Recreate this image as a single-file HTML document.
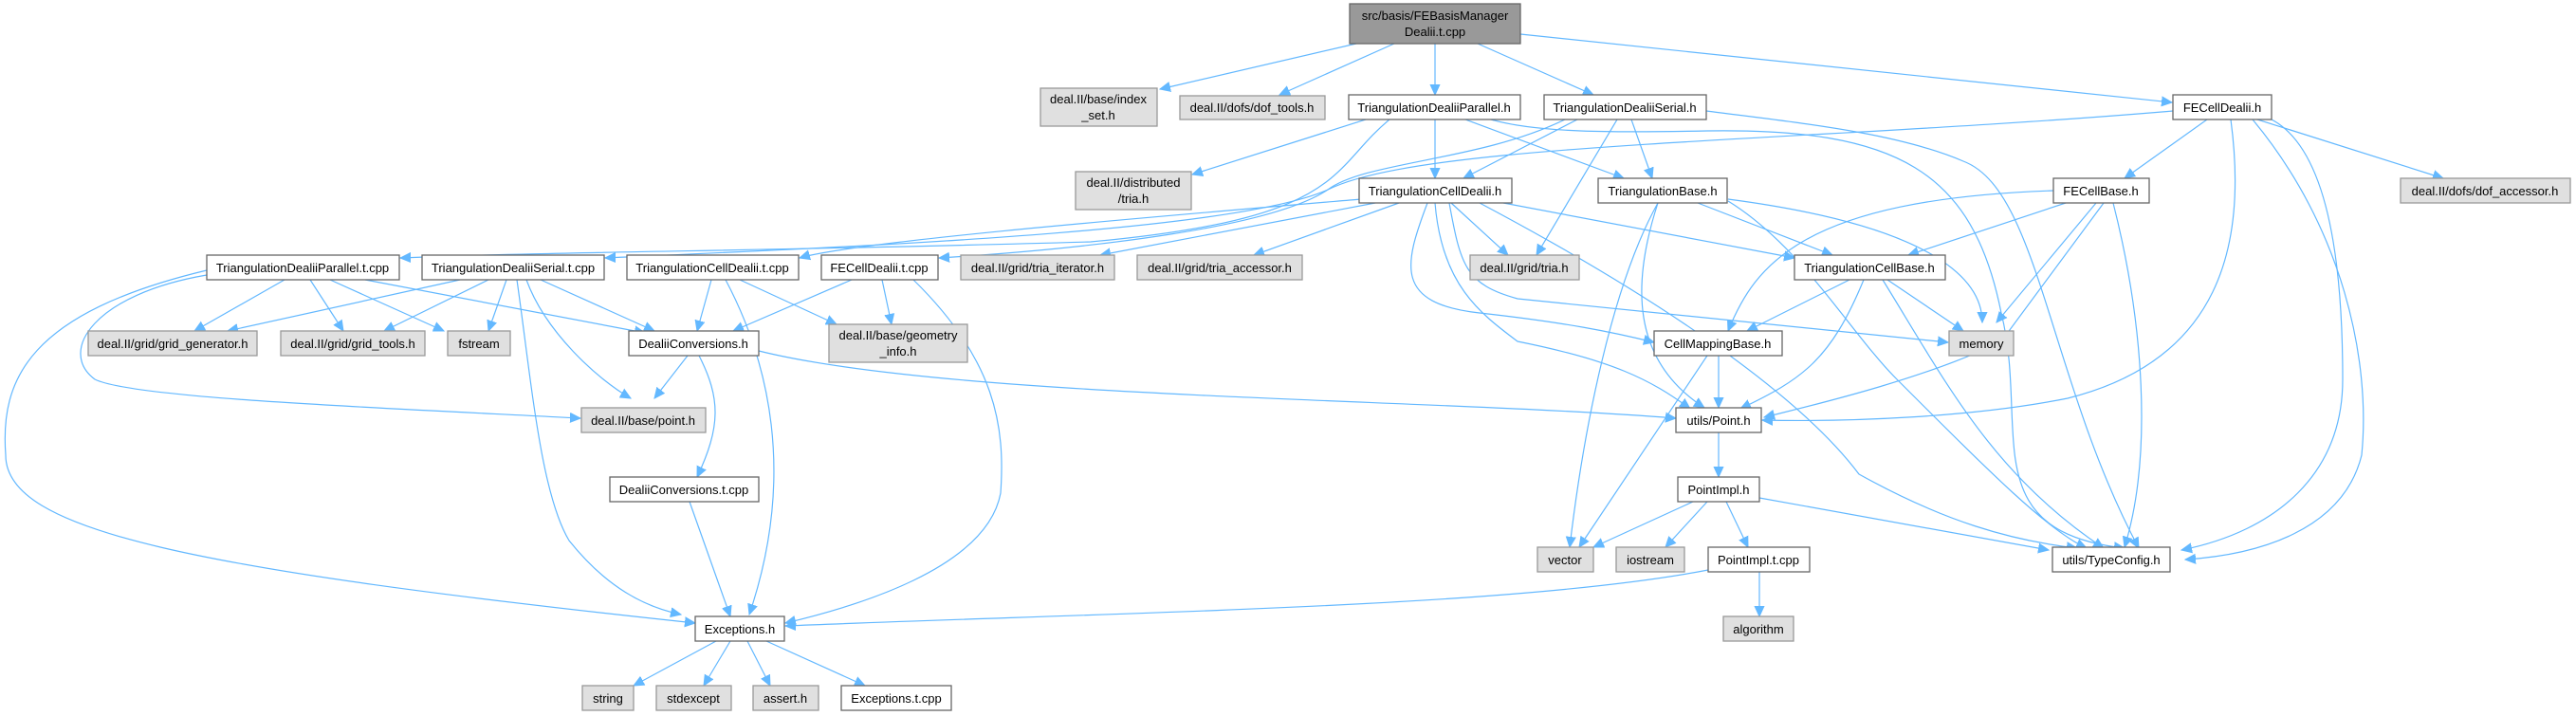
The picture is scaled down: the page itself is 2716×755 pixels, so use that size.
<!DOCTYPE html>
<html><head><meta charset="utf-8"><style>
html,body{margin:0;padding:0;background:#fff;}
svg{display:block;}
text{font-family:"Liberation Sans",Arial,sans-serif;font-size:13px;fill:#000;text-anchor:middle;}
.e{fill:none;stroke:#63b8ff;stroke-width:1.2;marker-end:url(#a);}
.g{fill:#e0e0e0;stroke:#999;stroke-width:1.3;}
.w{fill:#fff;stroke:#666;stroke-width:1.3;}
.t{fill:#999;stroke:#666;stroke-width:1.3;}
</style></head><body>
<svg width="2716" height="755" viewBox="0 0 2716 755" xmlns="http://www.w3.org/2000/svg">
<defs><marker id="a" markerUnits="userSpaceOnUse" markerWidth="12" markerHeight="12" viewBox="0 0 12 12" refX="11" refY="6" orient="auto"><path d="M0,1 L11,6 L0,11 z" fill="#63b8ff" stroke="#63b8ff"/></marker></defs>

<path class="e" d="M1430,46 L1223,94"/>
<path class="e" d="M1470,46 L1349,100"/>
<path class="e" d="M1513,46 L1513,100"/>
<path class="e" d="M1558,46 L1680,100"/>
<path class="e" d="M1603,36 L2290,108"/>

<path class="e" d="M1440,126 L1257,184"/>
<path class="e" d="M1465,126 C1400,180 1420,230 1150,255 C800,265 600,265 422,272"/>
<path class="e" d="M1513,126 L1513,188"/>
<path class="e" d="M1545,126 L1712,188"/>
<path class="e" d="M1572,126 C1620,140 1700,140 1800,138 C2000,135 2080,180 2110,330 C2140,450 2080,560 2240,578"/>

<path class="e" d="M1650,126 C1560,170 1440,170 1400,200 C1300,245 900,260 638,272"/>
<path class="e" d="M1663,126 L1543,188"/>
<path class="e" d="M1705,126 L1620,269"/>
<path class="e" d="M1720,126 L1742,188"/>
<path class="e" d="M1799,117 C1900,130 2000,140 2070,170 C2150,200 2160,400 2255,578"/>

<path class="e" d="M2291,117 C1900,150 1500,150 1400,200 C1340,240 1150,262 990,272"/>
<path class="e" d="M2327,126 L2240,188"/>
<path class="e" d="M2380,126 L2576,188"/>
<path class="e" d="M2352,126 C2370,260 2340,380 2180,420 C2080,440 1950,445 1858,443"/>
<path class="e" d="M2375,126 C2470,240 2500,380 2490,480 C2470,560 2380,585 2304,590"/>
<path class="e" d="M2395,126 C2460,160 2470,300 2470,400 C2470,500 2400,560 2300,580"/>

<path class="e" d="M1435,210 C1200,230 900,255 843,272"/>
<path class="e" d="M1450,214 L1160,269"/>
<path class="e" d="M1475,214 L1322,269"/>
<path class="e" d="M1530,214 L1590,269"/>
<path class="e" d="M1585,214 L1892,272"/>
<path class="e" d="M1528,214 C1540,280 1545,300 1600,315 L2054,361"/>
<path class="e" d="M1505,214 C1480,280 1470,320 1560,330 C1650,340 1700,350 1744,361"/>
<path class="e" d="M1513,214 C1520,300 1560,330 1600,360 C1700,380 1740,400 1782,431"/>
<path class="e" d="M1560,214 C1760,320 1900,420 1960,500 C2050,550 2120,570 2190,578"/>

<path class="e" d="M1790,214 L1932,269"/>
<path class="e" d="M1822,210 C2050,240 2090,300 2090,340"/>
<path class="e" d="M1748,214 C1720,300 1720,380 1797,430"/>
<path class="e" d="M1748,214 C1700,300 1670,450 1655,577"/>
<path class="e" d="M1822,212 C1900,260 1950,350 2000,400 C2100,500 2160,560 2200,578"/>

<path class="e" d="M2178,214 L2012,269"/>
<path class="e" d="M2210,214 L2105,340"/>
<path class="e" d="M2165,201 C1900,210 1850,280 1822,349"/>
<path class="e" d="M2218,214 L2110,360 C2030,400 1900,430 1860,440"/>
<path class="e" d="M2228,214 C2260,340 2270,480 2240,577"/>

<path class="e" d="M1950,295 L1842,349"/>
<path class="e" d="M1990,295 L2070,349"/>
<path class="e" d="M1965,295 C1930,380 1900,400 1835,431"/>
<path class="e" d="M1985,295 C2050,400 2100,500 2218,578"/>

<path class="e" d="M1812,375 L1812,430"/>
<path class="e" d="M1800,375 L1665,577"/>

<path class="e" d="M1812,456 L1812,503"/>
<path class="e" d="M1785,529 L1680,577"/>
<path class="e" d="M1800,529 L1756,577"/>
<path class="e" d="M1820,529 L1843,577"/>
<path class="e" d="M1855,525 L2160,580"/>
<path class="e" d="M1801,601 C1600,640 1200,645 828,660"/>
<path class="e" d="M1855,603 L1855,650"/>

<path class="e" d="M300,295 L205,349"/>
<path class="e" d="M327,295 L362,349"/>
<path class="e" d="M348,295 L468,349"/>
<path class="e" d="M385,295 L680,351"/>
<path class="e" d="M218,290 C100,310 60,370 100,400 C140,420 400,430 612,441"/>
<path class="e" d="M218,285 C30,330 0,400 6,480 C6,560 200,600 733,657"/>

<path class="e" d="M485,295 L240,349"/>
<path class="e" d="M515,295 L405,349"/>
<path class="e" d="M534,295 L515,349"/>
<path class="e" d="M570,295 L690,349"/>
<path class="e" d="M555,295 C575,350 630,400 665,420"/>
<path class="e" d="M545,295 C560,400 570,520 600,570 C640,620 680,640 718,648"/>

<path class="e" d="M750,295 L735,349"/>
<path class="e" d="M780,295 L882,342"/>
<path class="e" d="M765,295 C810,380 840,500 790,648"/>

<path class="e" d="M898,295 L773,349"/>
<path class="e" d="M930,295 L940,342"/>
<path class="e" d="M963,295 C1050,380 1060,450 1055,520 C1040,600 900,640 828,657"/>

<path class="e" d="M725,375 L690,420"/>
<path class="e" d="M737,375 C760,420 760,450 735,503"/>
<path class="e" d="M800,370 C1000,420 1500,420 1767,441"/>

<path class="e" d="M727,529 L770,650"/>

<path class="e" d="M755,676 L668,723"/>
<path class="e" d="M770,676 L742,723"/>
<path class="e" d="M788,676 L812,723"/>
<path class="e" d="M808,676 L912,723"/>

<rect class="t" x="1423" y="4" width="180" height="42"/>
<text x="1513" y="21">src/basis/FEBasisManager</text><text x="1513" y="38">Dealii.t.cpp</text>

<rect class="g" x="1097" y="93" width="123" height="40"/>
<text x="1158" y="109">deal.II/base/index</text><text x="1158" y="126">_set.h</text>
<rect class="g" x="1244" y="101" width="153" height="25"/><text x="1320" y="118">deal.II/dofs/dof_tools.h</text>
<rect class="w" x="1422" y="100" width="181" height="26"/><text x="1512" y="118">TriangulationDealiiParallel.h</text>
<rect class="w" x="1628" y="100" width="171" height="26"/><text x="1713" y="118">TriangulationDealiiSerial.h</text>
<rect class="w" x="2291" y="100" width="104" height="26"/><text x="2343" y="118">FECellDealii.h</text>

<rect class="g" x="1134" y="181" width="122" height="40"/>
<text x="1195" y="197">deal.II/distributed</text><text x="1195" y="214">/tria.h</text>
<rect class="w" x="1433" y="188" width="161" height="26"/><text x="1513" y="206">TriangulationCellDealii.h</text>
<rect class="w" x="1685" y="188" width="136" height="26"/><text x="1753" y="206">TriangulationBase.h</text>
<rect class="w" x="2165" y="188" width="101" height="26"/><text x="2215" y="206">FECellBase.h</text>
<rect class="g" x="2531" y="188" width="179" height="26"/><text x="2620" y="206">deal.II/dofs/dof_accessor.h</text>

<rect class="w" x="218" y="269" width="203" height="26"/><text x="319" y="287">TriangulationDealiiParallel.t.cpp</text>
<rect class="w" x="445" y="269" width="192" height="26"/><text x="541" y="287">TriangulationDealiiSerial.t.cpp</text>
<rect class="w" x="661" y="269" width="181" height="26"/><text x="751" y="287">TriangulationCellDealii.t.cpp</text>
<rect class="w" x="866" y="269" width="123" height="26"/><text x="927" y="287">FECellDealii.t.cpp</text>
<rect class="g" x="1013" y="269" width="162" height="26"/><text x="1094" y="287">deal.II/grid/tria_iterator.h</text>
<rect class="g" x="1199" y="269" width="174" height="26"/><text x="1286" y="287">deal.II/grid/tria_accessor.h</text>
<rect class="g" x="1550" y="269" width="115" height="26"/><text x="1607" y="287">deal.II/grid/tria.h</text>
<rect class="w" x="1892" y="269" width="159" height="26"/><text x="1971" y="287">TriangulationCellBase.h</text>

<rect class="g" x="93" y="349" width="178" height="26"/><text x="182" y="367">deal.II/grid/grid_generator.h</text>
<rect class="g" x="296" y="349" width="152" height="26"/><text x="372" y="367">deal.II/grid/grid_tools.h</text>
<rect class="g" x="472" y="349" width="66" height="26"/><text x="505" y="367">fstream</text>
<rect class="w" x="663" y="349" width="137" height="26"/><text x="731" y="367">DealiiConversions.h</text>
<rect class="g" x="874" y="342" width="146" height="40"/>
<text x="947" y="358">deal.II/base/geometry</text><text x="947" y="375">_info.h</text>
<rect class="w" x="1744" y="349" width="135" height="26"/><text x="1811" y="367">CellMappingBase.h</text>
<rect class="g" x="2055" y="349" width="68" height="26"/><text x="2089" y="367">memory</text>

<rect class="g" x="613" y="430" width="131" height="26"/><text x="678" y="448">deal.II/base/point.h</text>
<rect class="w" x="1767" y="430" width="90" height="26"/><text x="1812" y="448">utils/Point.h</text>

<rect class="w" x="643" y="503" width="157" height="26"/><text x="721" y="521">DealiiConversions.t.cpp</text>
<rect class="w" x="1769" y="503" width="86" height="26"/><text x="1812" y="521">PointImpl.h</text>

<rect class="g" x="1621" y="577" width="59" height="26"/><text x="1650" y="595">vector</text>
<rect class="g" x="1704" y="577" width="72" height="26"/><text x="1740" y="595">iostream</text>
<rect class="w" x="1801" y="577" width="107" height="26"/><text x="1854" y="595">PointImpl.t.cpp</text>
<rect class="w" x="2164" y="577" width="124" height="26"/><text x="2226" y="595">utils/TypeConfig.h</text>

<rect class="w" x="733" y="650" width="94" height="26"/><text x="780" y="668">Exceptions.h</text>
<rect class="g" x="1817" y="650" width="74" height="26"/><text x="1854" y="668">algorithm</text>

<rect class="g" x="614" y="723" width="54" height="26"/><text x="641" y="741">string</text>
<rect class="g" x="692" y="723" width="79" height="26"/><text x="731" y="741">stdexcept</text>
<rect class="g" x="794" y="723" width="69" height="26"/><text x="828" y="741">assert.h</text>
<rect class="w" x="887" y="723" width="116" height="26"/><text x="945" y="741">Exceptions.t.cpp</text>
</svg>
</body></html>
